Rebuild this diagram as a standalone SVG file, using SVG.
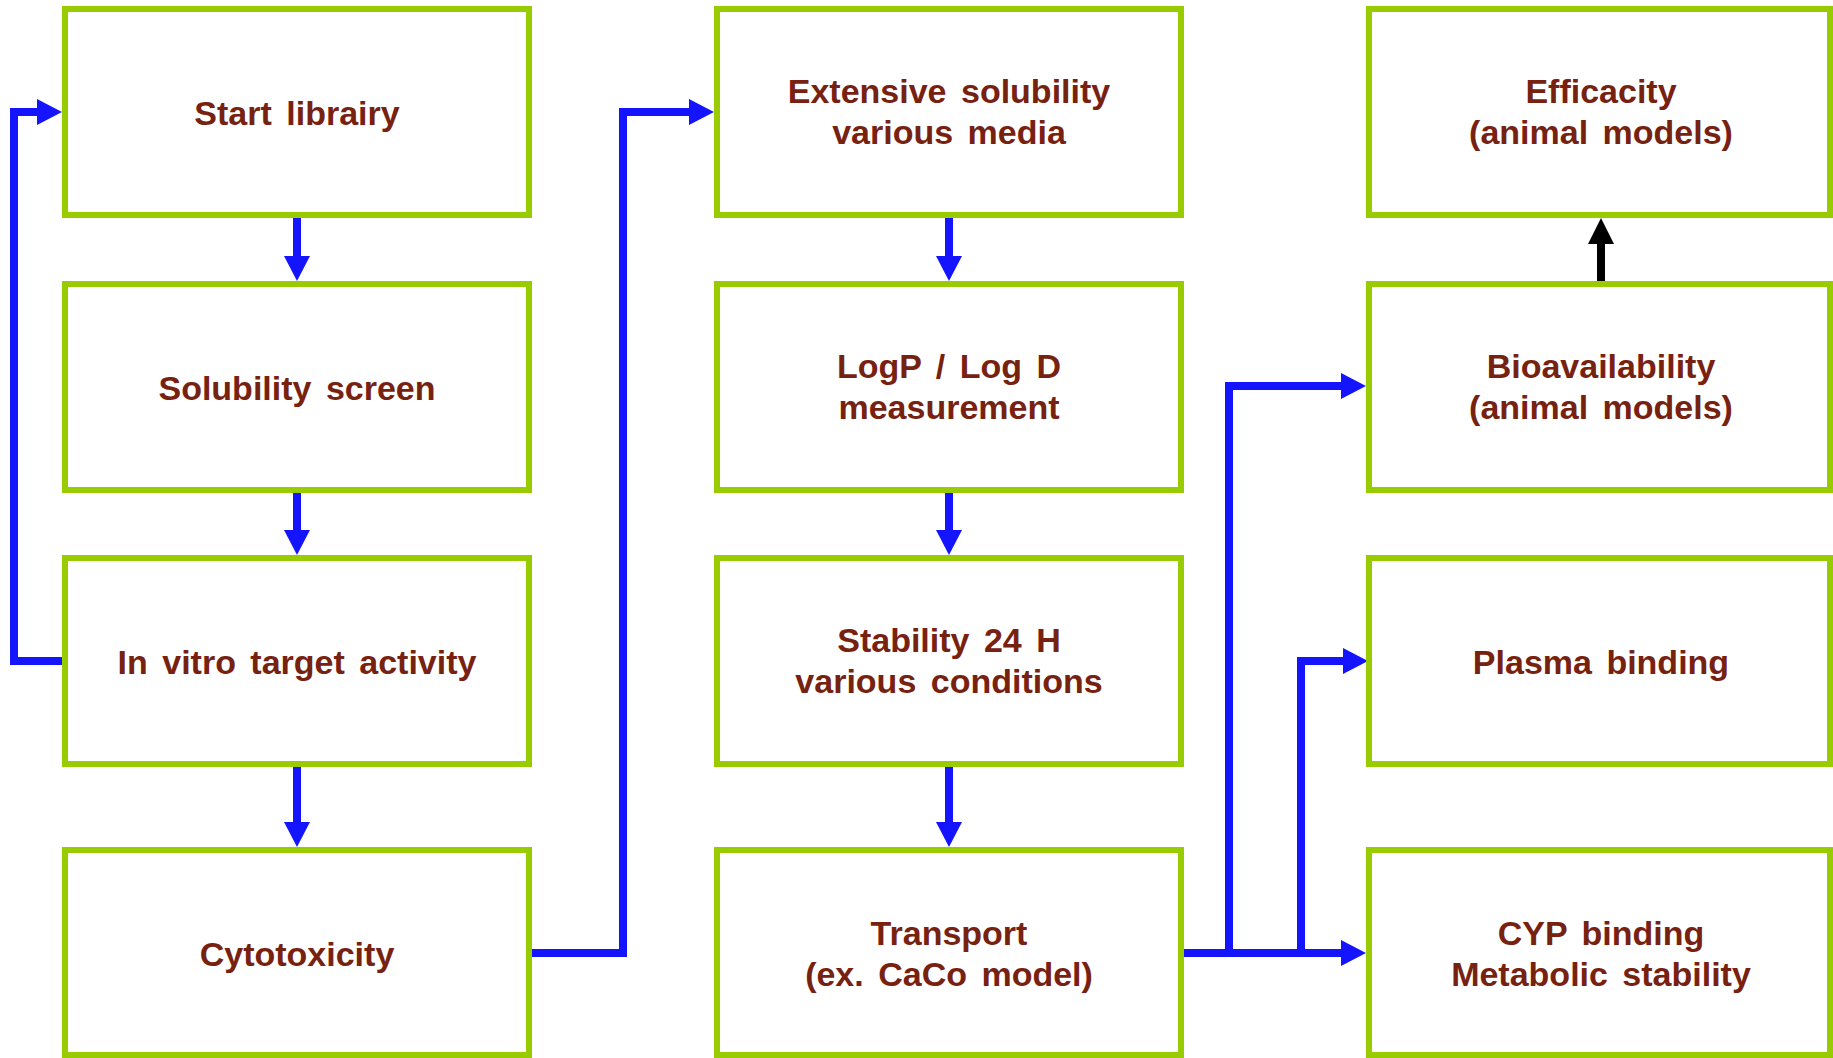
<svg xmlns="http://www.w3.org/2000/svg" width="1833" height="1058" viewBox="0 0 1833 1058">
<style>
.box{fill:#ffffff;stroke:#99cc00;stroke-width:6}
.lbl{font-family:"Liberation Sans",Arial,sans-serif;font-weight:bold;font-size:34px;fill:#772211;text-anchor:middle;word-spacing:5px}
.conn{fill:none;stroke:#1414ff;stroke-width:8;stroke-linejoin:miter}
.connk{fill:none;stroke:#000000;stroke-width:8}
</style>
<defs>
<marker id="ah" markerUnits="userSpaceOnUse" markerWidth="26" markerHeight="28" viewBox="0 -14 26 28" refX="0" refY="0" orient="auto" overflow="visible">
<path d="M0,-13 L25,0 L0,13 z" fill="#1414ff"/>
</marker>
<marker id="ahk" markerUnits="userSpaceOnUse" markerWidth="26" markerHeight="28" viewBox="0 -14 26 28" refX="0" refY="0" orient="auto" overflow="visible">
<path d="M0,-13 L26,0 L0,13 z" fill="#000000"/>
</marker>
</defs>
<rect width="1833" height="1058" fill="#ffffff"/>
<g id="connectors">
<path class="conn" d="M297,218 V256" marker-end="url(#ah)"/>
<path class="conn" d="M297,493 V530" marker-end="url(#ah)"/>
<path class="conn" d="M297,767 V822" marker-end="url(#ah)"/>
<path class="conn" d="M62,661 H14 V112 H37" marker-end="url(#ah)"/>
<path class="conn" d="M532,953 H623 V112 H689" marker-end="url(#ah)"/>
<path class="conn" d="M949,218 V256" marker-end="url(#ah)"/>
<path class="conn" d="M949,493 V530" marker-end="url(#ah)"/>
<path class="conn" d="M949,767 V822" marker-end="url(#ah)"/>
<path class="conn" d="M1184,953 H1341" marker-end="url(#ah)"/>
<path class="conn" d="M1229,953 V386 H1341" marker-end="url(#ah)"/>
<path class="conn" d="M1301,953 V661 H1343" marker-end="url(#ah)"/>
<path class="connk" d="M1601,281 V244" marker-end="url(#ahk)"/>
</g>
<g id="start-library"><rect class="box" x="65" y="9" width="464" height="206"/><text class="lbl" x="297" y="125">Start librairy</text></g>
<g id="solubility-screen"><rect class="box" x="65" y="284" width="464" height="206"/><text class="lbl" x="297" y="400">Solubility screen</text></g>
<g id="in-vitro"><rect class="box" x="65" y="558" width="464" height="206"/><text class="lbl" x="297" y="674">In vitro target activity</text></g>
<g id="cytotoxicity"><rect class="box" x="65" y="850" width="464" height="205"/><text class="lbl" x="297" y="966">Cytotoxicity</text></g>
<g id="extensive-solubility"><rect class="box" x="717" y="9" width="464" height="206"/><text class="lbl" x="949" y="103">Extensive solubility</text><text class="lbl" x="949" y="144">various media</text></g>
<g id="logp"><rect class="box" x="717" y="284" width="464" height="206"/><text class="lbl" x="949" y="378">LogP / Log D</text><text class="lbl" x="949" y="419">measurement</text></g>
<g id="stability"><rect class="box" x="717" y="558" width="464" height="206"/><text class="lbl" x="949" y="652">Stability 24 H</text><text class="lbl" x="949" y="693">various conditions</text></g>
<g id="transport"><rect class="box" x="717" y="850" width="464" height="205"/><text class="lbl" x="949" y="945">Transport</text><text class="lbl" x="949" y="986">(ex. CaCo model)</text></g>
<g id="efficacity"><rect class="box" x="1369" y="9" width="461" height="206"/><text class="lbl" x="1601" y="103">Efficacity</text><text class="lbl" x="1601" y="144">(animal models)</text></g>
<g id="bioavailability"><rect class="box" x="1369" y="284" width="461" height="206"/><text class="lbl" x="1601" y="378">Bioavailability</text><text class="lbl" x="1601" y="419">(animal models)</text></g>
<g id="plasma-binding"><rect class="box" x="1369" y="558" width="461" height="206"/><text class="lbl" x="1601" y="674">Plasma binding</text></g>
<g id="cyp-binding"><rect class="box" x="1369" y="850" width="461" height="205"/><text class="lbl" x="1601" y="945">CYP binding</text><text class="lbl" x="1601" y="986">Metabolic stability</text></g>
</svg>
